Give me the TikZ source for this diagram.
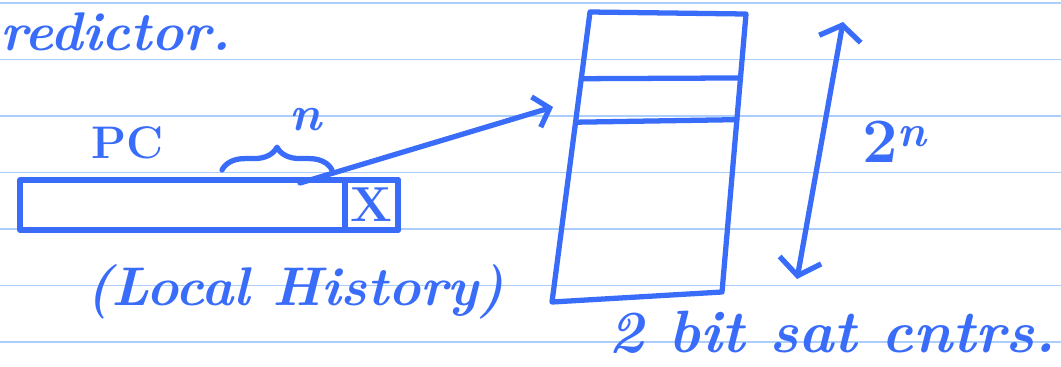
\documentclass[tikz,border=0pt]{standalone}
\usepackage{tikz}
\usetikzlibrary{arrows.meta, positioning, calc, decorations.pathreplacing}
\definecolor{inkblue}{RGB}{58,108,250}
\definecolor{ruleblue}{RGB}{172,206,250}

\begin{document}
\begin{tikzpicture}[
    x=0.02cm, y=-0.02cm,
    ink/.style={draw=inkblue, line width=3pt, line cap=round, line join=round},
    hand/.style={text=inkblue, font=\bfseries\itshape\fontsize{34}{40}\selectfont, inner sep=0pt},
    regbox/.style={ink, rectangle, minimum width=7.56cm, minimum height=1cm},
    arrow/.style={ink, -{Straight Barb[length=8pt, width=18pt]}}
]
\useasboundingbox (0,0) rectangle (1061,366);
% ruled paper
\foreach \y in {3,59.5,116,172.5,229,285.5,342}
  \draw[ruleblue, line width=1.1pt] (0,\y) -- (1061,\y);

\node[hand, anchor=base west, font=\bfseries\itshape\fontsize{31}{36}\selectfont] (title) at (0,50) {redictor.};

% local history register
\node[regbox] (pcreg) at (209,205) {};
\node[regbox, minimum width=1.06cm, anchor=east, hand, font=\bfseries\fontsize{28}{34}\selectfont] (xbit) at (pcreg.east) {X};
\node[hand, font=\bfseries\fontsize{26}{30}\selectfont] (pc) at (128,143) {PC};
\draw[ink, decorate, decoration={brace, amplitude=13pt}] (222,170) -- (332,170);
\node[hand, font=\bfseries\itshape\fontsize{28}{32}\selectfont] (nbits) at (305,120) {n};
\node[hand, font=\bfseries\itshape\fontsize{31}{36}\selectfont] (lhist) at (295,292) {(Local History)};

% counter table
\coordinate (ttl) at (590,12);
\coordinate (ttr) at (746,14);
\coordinate (tbr) at (722,292);
\coordinate (tbl) at (552,302);
\draw[ink] (ttl) -- (ttr) -- (tbr) -- (tbl) -- cycle;
\foreach \f in {0.23,0.38}
  \draw[ink] ($(ttl)!\f!(tbl)$) -- ($(ttr)!\f!(tbr)$);
\coordinate (idxout) at (300,183);
\coordinate (rowin) at (553,107);
\draw[arrow] (idxout) -- (rowin);

% table size
\coordinate (spant) at (843,22);
\coordinate (spanb) at (797,279);
\draw[ink, {Straight Barb[length=8pt, width=24pt]}-{Straight Barb[length=9pt, width=24pt]}] (spant) -- (spanb);
\node[hand, font=\bfseries\fontsize{36}{42}\selectfont] (size) at (895,142) {2\textsuperscript{\itshape n}};
\node[hand, anchor=base] (cntrs) at (832,352) {2 bit sat cntrs.};
\end{tikzpicture}
\end{document}
